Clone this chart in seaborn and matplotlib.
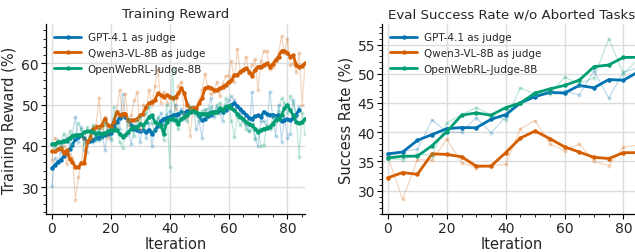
import numpy as np
import pandas as pd
import matplotlib
matplotlib.use("Agg")
import matplotlib.pyplot as plt
from matplotlib.ticker import MultipleLocator
import seaborn as sns

# ---------------------------------------------------------------------------
# 資料：左圖 Training Reward（每個 iteration），右圖 Eval（每 5 個 iteration）
# ---------------------------------------------------------------------------
JUDGES = ["GPT-4.1 as judge", "Qwen3-VL-8B as judge", "OpenWebRL-Judge-8B"]
COLORS = ["#0173b2", "#d55e00", "#029e73"]

gpt_reward_raw = [
    30.3, 37.0, 36.0, 38.5, 41.0, 42.0, 40.5, 43.0, 47.0, 41.0,
    44.5, 39.0, 38.5, 42.5, 41.0, 43.5, 41.5, 43.0, 39.0, 44.0,
    41.5, 46.0, 48.5, 44.0, 52.5, 47.0, 43.0, 40.5, 45.0, 44.5,
    41.0, 44.5, 42.0, 45.5, 40.0, 44.0, 46.5, 48.0, 45.0, 47.5,
    48.5, 46.0, 50.0, 47.0, 49.0, 46.5, 50.5, 48.0, 49.5, 44.0,
    46.0, 42.0, 48.5, 49.0, 51.5, 47.0, 49.5, 48.0, 46.0, 50.0,
    51.0, 52.0, 51.0, 47.5, 48.0, 46.0, 45.0, 43.5, 53.0, 41.7,
    40.0, 46.0, 46.0, 44.5, 53.0, 47.0, 42.3, 50.0, 41.0, 47.0,
    42.0, 43.0, 51.0, 47.5, 49.5,
]
gpt_reward_smooth = [
    34.6, 35.3, 36.1, 36.6, 37.5, 38.4, 39.2, 40.3, 41.6, 42.2,
    42.6, 41.8, 41.0, 41.2, 41.5, 41.8, 42.0, 42.4, 42.6, 42.8,
    43.1, 44.5, 45.8, 46.8, 47.4, 47.0, 46.2, 45.0, 44.2, 43.8,
    43.6, 43.8, 43.4, 43.9, 43.0, 43.8, 44.8, 46.0, 46.6, 46.8,
    47.0, 47.4, 47.6, 47.8, 48.2, 48.0, 48.4, 48.8, 49.1, 48.2,
    47.2, 46.2, 46.4, 47.2, 47.6, 48.2, 48.2, 48.6, 48.2, 48.8,
    49.4, 50.0, 50.3, 49.6, 49.0, 48.2, 47.6, 46.8, 46.6, 47.2,
    47.4, 47.0, 48.3, 47.8, 47.4, 47.6, 47.2, 47.6, 46.0, 46.2,
    46.4, 46.2, 46.8, 47.6, 48.8,
]
qwen_reward_raw = [
    36.5, 42.0, 41.0, 39.5, 40.0, 35.5, 38.0, 37.0, 27.0, 32.5,
    36.0, 42.0, 41.0, 42.5, 44.5, 45.0, 51.5, 44.0, 47.0, 42.0,
    44.0, 46.5, 48.0, 53.5, 47.5, 52.5, 45.0, 47.5, 51.0, 53.0,
    44.0, 50.0, 49.0, 53.5, 50.0, 54.5, 58.5, 50.5, 53.0, 50.5,
    52.0, 51.5, 49.0, 54.5, 55.5, 47.5, 47.0, 42.5, 49.5, 48.5,
    51.0, 53.5, 57.5, 54.0, 52.5, 53.0, 55.5, 52.0, 55.0, 57.0,
    57.0, 60.5, 55.5, 63.5, 58.0, 58.5, 61.5, 57.5, 59.5, 61.0,
    53.5, 60.5, 63.0, 63.0, 58.5, 59.0, 61.0, 62.5, 66.5, 62.5,
    66.0, 59.5, 60.0, 58.0, 62.5, 50.0, 60.0,
]
qwen_reward_smooth = [
    38.7, 38.7, 39.2, 39.5, 38.4, 38.9, 36.9, 36.1, 34.9, 34.9,
    35.8, 35.8, 40.9, 41.8, 44.2, 44.6, 44.6, 45.0, 46.6, 45.0,
    44.6, 45.8, 48.2, 47.4, 47.8, 47.8, 46.2, 46.2, 46.2, 46.6,
    47.4, 47.8, 49.5, 50.3, 50.7, 51.1, 52.7, 52.3, 51.9, 52.3,
    51.9, 51.6, 51.9, 52.7, 53.9, 52.7, 49.9, 49.1, 49.1, 49.1,
    50.3, 51.5, 53.9, 54.3, 54.1, 53.5, 53.5, 53.9, 54.3, 54.7,
    55.5, 55.9, 57.2, 57.2, 58.0, 58.4, 58.8, 58.0, 57.0, 58.4,
    59.2, 59.2, 59.6, 60.0, 59.2, 59.8, 60.8, 61.6, 63.0, 63.0,
    62.6, 61.6, 61.9, 59.6, 59.2, 59.4, 60.0,
]
owrl_reward_raw = [
    40.5, 39.5, 41.5, 40.0, 43.0, 41.5, 43.5, 40.0, 42.5, 45.5,
    44.0, 40.5, 44.5, 42.5, 45.0, 41.5, 44.0, 42.0, 45.5, 43.5,
    42.0, 49.5, 44.5, 41.0, 39.5, 43.0, 46.5, 45.0, 42.5, 46.0,
    47.0, 44.0, 48.0, 49.5, 45.5, 43.5, 47.0, 44.5, 41.5, 50.0,
    35.0, 58.5, 45.5, 44.0, 48.5, 47.5, 46.0, 49.5, 48.0, 47.5,
    46.5, 48.5, 49.0, 47.0, 49.5, 47.5, 50.0, 50.5, 48.0, 51.5,
    50.0, 46.0, 42.2, 47.0, 45.0, 46.5, 44.0, 43.5, 44.5, 42.0,
    44.0, 40.0, 40.2, 45.0, 44.0, 47.0, 46.5, 48.5, 51.5, 50.5,
    48.0, 52.0, 50.5, 47.0, 37.3, 48.0, 43.0,
]
owrl_reward_smooth = [
    40.5, 40.5, 40.9, 40.9, 41.3, 41.3, 41.9, 42.4, 42.6, 42.7,
    42.7, 43.4, 43.5, 43.5, 43.4, 43.0, 43.2, 43.0, 43.2, 43.5,
    43.8, 43.8, 43.8, 43.0, 42.2, 42.6, 43.4, 44.2, 44.6, 44.6,
    45.4, 45.0, 45.8, 47.0, 47.4, 45.8, 45.4, 45.0, 43.0, 45.8,
    46.6, 46.6, 46.2, 45.4, 46.6, 47.0, 47.6, 48.2, 48.4, 48.2,
    47.8, 47.8, 47.8, 47.8, 48.2, 48.1, 48.2, 49.1, 48.6, 49.5,
    49.7, 49.1, 48.6, 47.8, 47.0, 46.6, 45.8, 45.4, 45.0, 44.2,
    43.4, 43.8, 44.2, 44.3, 44.6, 45.4, 46.2, 46.4, 47.4, 49.1,
    49.9, 48.6, 47.4, 45.8, 45.6, 45.8, 46.6,
]

eval_iters = [0, 5, 10, 15, 20, 25, 30, 35, 40, 45, 50, 55, 60, 65, 70, 75, 80, 85]
gpt_eval_raw = [36.0, 36.7, 37.1, 42.1, 40.0, 40.0, 42.5, 39.9, 42.6, 45.0,
                46.3, 47.0, 47.0, 46.4, 50.5, 45.8, 50.3, 51.0]
gpt_eval_smooth = [36.3, 36.6, 38.6, 39.6, 40.6, 40.8, 40.75, 42.2, 43.0, 45.0,
                   46.1, 46.8, 46.7, 48.0, 47.6, 49.0, 48.9, 50.3]
qwen_eval_raw = [35.8, 28.5, 35.3, 35.2, 38.8, 34.8, 33.9, 34.3, 34.5, 40.6,
                 42.0, 38.0, 36.8, 38.0, 35.0, 34.3, 37.4, 37.8]
qwen_eval_smooth = [32.2, 33.1, 32.8, 36.3, 36.2, 35.8, 34.2, 34.2, 36.5, 39.0,
                    40.2, 38.9, 37.5, 36.6, 35.7, 35.5, 36.5, 36.5]
owrl_eval_raw = [35.5, 35.3, 36.3, 36.0, 41.6, 43.0, 44.2, 43.0, 42.1, 47.6,
                 46.5, 46.5, 49.4, 48.3, 49.3, 56.0, 50.0, 52.5]
owrl_eval_smooth = [35.6, 35.9, 35.9, 37.7, 40.1, 42.9, 43.3, 42.9, 44.2, 45.0,
                    46.7, 47.4, 48.0, 48.9, 51.2, 51.5, 52.8, 52.8]


def _draw(ax, raws, smooths, iters_list):
    """每條曲線：淡色原始值 + 粗線平滑值。"""
    for name, color, raw, smooth, iters in zip(JUDGES, COLORS, raws, smooths, iters_list):
        df = pd.DataFrame({"Iteration": iters[:len(raw)], "raw": raw,
                           "smooth": smooth})
        sns.lineplot(data=df, x="Iteration", y="raw", ax=ax, color=color,
                     lw=0.9, alpha=0.25, marker="o", markersize=3,
                     markeredgewidth=0.5, legend=False)
        sns.lineplot(data=df, x="Iteration", y="smooth", ax=ax, color=color,
                     lw=2, marker="o", markersize=3.2, markeredgewidth=0,
                     label=name)


def _style(ax, title, ylabel, ylim, ymajor, yminor):
    ax.set_title(title, fontsize=9.6, pad=5)
    ax.set_xlabel("Iteration", fontsize=10.5, labelpad=1)
    ax.set_ylabel(ylabel, fontsize=10.5, labelpad=3)
    ax.set_xlim(-2, 86)
    ax.set_ylim(*ylim)
    ax.xaxis.set_major_locator(MultipleLocator(20))
    ax.xaxis.set_minor_locator(MultipleLocator(5))
    ax.yaxis.set_major_locator(MultipleLocator(ymajor))
    ax.yaxis.set_minor_locator(MultipleLocator(yminor))
    ax.set_axisbelow(True)
    ax.grid(True, which="major", color="#dcdcdc", lw=1)
    ax.tick_params(which="both", bottom=True, left=True, top=False, right=False)
    ax.tick_params(which="major", direction="out", length=3.5, width=0.8,
                   labelsize=10, pad=1.5, color="black")
    ax.tick_params(which="minor", direction="out", length=2, width=0.6,
                   color="black")
    for side in ["top", "right"]:
        ax.spines[side].set_visible(False)
    for side in ["left", "bottom"]:
        ax.spines[side].set_color("black")
        ax.spines[side].set_linewidth(0.9)
    ax.legend(loc="upper left", frameon=False, fontsize=7.5, handlelength=2.6,
              borderaxespad=0.4, labelspacing=0.55, handletextpad=0.6)


sns.set_theme(style="white")
plt.rcParams["font.family"] = ["DejaVu Sans"]

fig = plt.figure(figsize=(6.35, 2.53), dpi=100)
ax1 = fig.add_axes([0.0724, 0.150, 0.408, 0.751])
ax2 = fig.add_axes([0.6016, 0.150, 0.408, 0.751])

reward_iters = list(range(0, 87))
_draw(ax1,
      [gpt_reward_raw, qwen_reward_raw, owrl_reward_raw],
      [gpt_reward_smooth, qwen_reward_smooth, owrl_reward_smooth],
      [reward_iters] * 3)
_style(ax1, "Training Reward", "Training Reward (%)", (23.5, 69.5), 10, 2)

_draw(ax2,
      [gpt_eval_raw, qwen_eval_raw, owrl_eval_raw],
      [gpt_eval_smooth, qwen_eval_smooth, owrl_eval_smooth],
      [eval_iters] * 3)
_style(ax2, "Eval Success Rate w/o Aborted Tasks", "Success Rate (%)",
       (26, 58.5), 5, 1)

fig.savefig("out.png", dpi=100)
plt.close(fig)
